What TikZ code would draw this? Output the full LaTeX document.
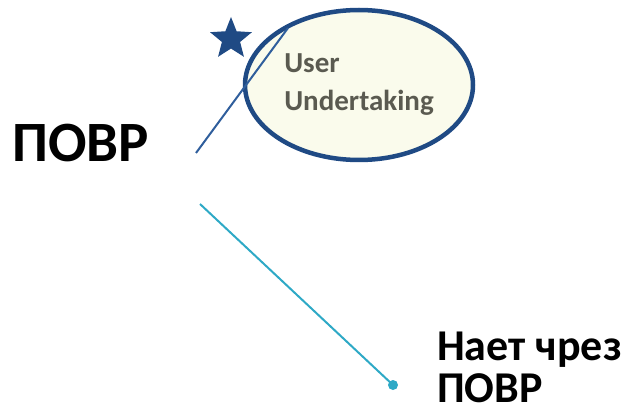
\documentclass[tikz,border=0pt]{standalone}
\usepackage{fontspec}
\setmainfont{Carlito}
\usetikzlibrary{shapes.geometric, positioning}
\definecolor{navy}{HTML}{1F4A84}
\definecolor{linkblue}{HTML}{2F5E9C}
\definecolor{cyanline}{HTML}{2EA9C6}
\definecolor{cream}{HTML}{FAFBEC}
\definecolor{textgray}{HTML}{5A5A50}
\tikzset{
	bigtext/.style={font=\bfseries\fontsize{57}{66}\selectfont, inner sep=0pt},
	note/.style={font=\bfseries\fontsize{44}{42}\selectfont, align=left, inner sep=0pt, text depth=0pt},
	bubble/.style={draw=navy, line width=4.5pt, ellipse, fill=cream, minimum width=228pt, minimum height=150pt, inner sep=0pt, align=left, text=textgray, font=\bfseries\fontsize{29}{38}\selectfont},
	mark star/.style={star, star points=5, star point ratio=2.3, fill=navy, draw=none, minimum size=44pt, inner sep=0pt},
	dot/.style={circle, fill=cyanline, minimum size=10pt, inner sep=0pt},
}

\begin{document}
\begin{tikzpicture}[x=1pt, y=-1pt]
\useasboundingbox (0,0) rectangle (634,414);

\node (povr) [bigtext, anchor=base west] at (12,162) {ПОВР};

\node (user) [bubble] at (359,85) {User\\Undertaking};

\node (star) [mark star] at (231,39) {};

% base is the last line here
\node (reach) [note, anchor=base west] at (437,402) {Нает чрез\\ПОВР};

\coordinate (blueA) at (196,153);
\coordinate (blueB) at (288,28);
\coordinate (cyanA) at (200,204);
\node (end) [dot] at (393,385) {};

\draw [linkblue, line width=2pt] (blueA) -- (blueB);
\draw [cyanline, line width=2pt] (cyanA) -- (end.center);
\end{tikzpicture}
\end{document}
